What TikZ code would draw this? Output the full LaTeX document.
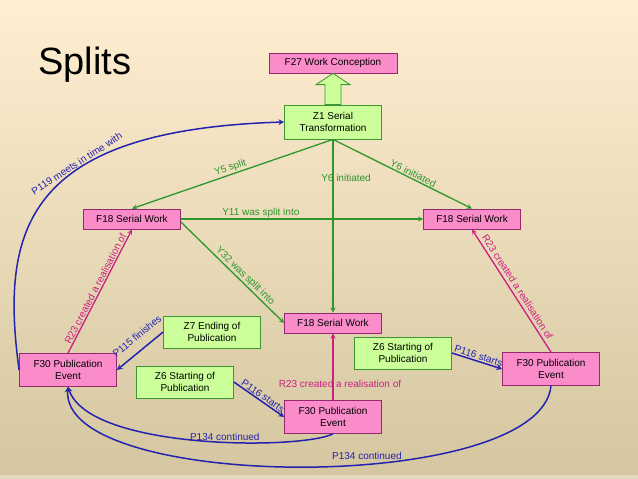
\documentclass[tikz,border=0pt]{standalone}
\usepackage{fontspec}
\setmainfont{Liberation Sans}
\usetikzlibrary{calc}

\definecolor{bgtop}{RGB}{255,238,209}
\definecolor{bgmid}{RGB}{246,229,196}
\definecolor{bgbot}{RGB}{212,198,160}
\definecolor{bgedge}{RGB}{226,216,188}
\definecolor{workfill}{RGB}{250,140,202}
\definecolor{workline}{RGB}{150,40,110}
\definecolor{tempfill}{RGB}{204,255,153}
\definecolor{templine}{RGB}{60,150,50}
\definecolor{splitgreen}{RGB}{45,150,45}
\definecolor{realpink}{RGB}{205,30,130}
\definecolor{timeblue}{RGB}{35,35,175}

\tikzstyle{work} = [rectangle, draw=workline, fill=workfill, line width=0.8pt,
minimum width=97pt, minimum height=20pt, inner sep=1pt, align=center, font=\fontsize{10}{12}\selectfont]
\tikzstyle{event} = [work, minimum height=33pt]
\tikzstyle{temporal} = [rectangle, draw=templine, fill=tempfill, line width=0.8pt,
minimum width=97pt, minimum height=32pt, inner sep=1pt, align=center, font=\fontsize{10}{12}\selectfont]
\tikzstyle{edgetext} = [font=\fontsize{10}{12}\selectfont, inner sep=1pt]
\tikzstyle{hollowarrow} = [draw=templine, fill=tempfill, line width=0.8pt]
\tikzstyle{splitarrow} = [draw=splitgreen, text=splitgreen, line width=1.3pt, ->, >=stealth]
\tikzstyle{realarrow} = [draw=realpink, text=realpink, line width=1.3pt, ->, >=stealth]
\tikzstyle{timearrow} = [draw=timeblue, text=timeblue, line width=1.5pt, ->, >=stealth]

\begin{document}
\begin{tikzpicture}[x=1pt,y=-1pt]

	%Background of the slide
	\shade[top color=bgtop, middle color=bgmid, bottom color=bgbot] (0,0) rectangle (638,479);
	\fill[bgedge] (0,475) rectangle (638,479);
	\useasboundingbox (0,0) rectangle (638,479);

	\node[anchor=base west, inner sep=0pt, font=\fontsize{38}{40}\selectfont](title) at (38,74) {Splits};

	%Work and serial work nodes
	\node[work, minimum width=128pt](F27) at (333,63) {F27 Work Conception};
	\node[temporal, minimum height=34pt](Z1) at (333,122) {Z1 Serial\\Transformation};
	\node[work](F18L) at (132,219) {F18 Serial Work};
	\node[work](F18R) at (472,219) {F18 Serial Work};
	\node[work](F18M) at (333,323) {F18 Serial Work};

	%Nodes for the publication events and their start and end
	\node[temporal](Z7) at (212,332) {Z7 Ending of\\Publication};
	\node[temporal](Z6R) at (403,353) {Z6 Starting of\\Publication};
	\node[temporal](Z6L) at (185,382) {Z6 Starting of\\Publication};
	\node[event](F30L) at (68,370) {F30 Publication\\Event};
	\node[event](F30M) at (333,417) {F30 Publication\\Event};
	\node[event](F30R) at (551,369) {F30 Publication\\Event};

	%Broad arrow from the transformation to the conception
	\draw[hollowarrow] ($(Z1.north)+(-8,0)$) -- ($(Z1.north)+(-8,-20)$) -- ($(Z1.north)+(-17,-20)$)
		-- (F27.south) -- ($(Z1.north)+(17,-20)$) -- ($(Z1.north)+(8,-20)$) -- ($(Z1.north)+(8,0)$) -- cycle;

	%Arrows of the split
	\path[splitarrow] (Z1.south) -- node[edgetext, sloped, above, pos=0.5] {Y5 split} (F18L.north);
	\path[splitarrow] (Z1.south) -- node[edgetext, sloped, above, pos=0.56] {Y6 initiated} (F18R.north);
	\path[splitarrow] (Z1.south) -- node[edgetext, pos=0.22, xshift=13pt] {Y6 initiated} (F18M.north);
	\path[splitarrow] (F18L.east) -- node[edgetext, above, pos=0.33] {Y11 was split into} (F18R.west);
	\path[splitarrow] ([yshift=-3pt]F18L.east) -- node[edgetext, sloped, above, pos=0.58] {Y32 was split into} (F18M.west);

	%Arrows from the publication events to the serial works
	\path[realarrow] (F30L.north) -- node[edgetext, sloped, above, pos=0.5] {R23 created a realisation of} (F18L.south);
	\path[realarrow] (F30R.north) -- node[edgetext, sloped, above=2pt, pos=0.5] {R23 created a realisation of} (F18R.south);
	\path[realarrow] (F30M.north) -- node[edgetext, pos=0.25, xshift=7pt] {R23 created a realisation of} (F18M.south);

	%Arrows in time
	\path[timearrow] (Z7.west) -- node[edgetext, sloped, above=8pt, pos=0.38] {P115 finishes} (F30L.east);
	\path[timearrow] (Z6R.east) -- node[edgetext, sloped, above, pos=0.5] {P116 starts} (F30R.west);
	\path[timearrow] (Z6L.east) -- node[edgetext, sloped, above, pos=0.52] {P116 starts} (F30M.west);
	\path[timearrow] (F30M.south) .. controls (300,450) and (90,450) .. node[edgetext, above, pos=0.42] {P134 continued} (F30L.south);
	\path[timearrow] (F30R.south) .. controls (540,495) and (60,492) .. node[edgetext, above=3pt, pos=0.41] {P134 continued} (F30L.south);
	\path[timearrow] (F30L.west) .. controls (0,230) and (25,130) .. node[edgetext, sloped, above, pos=0.62] {P119 meets in time with} (Z1.west);

\end{tikzpicture}
\end{document}
